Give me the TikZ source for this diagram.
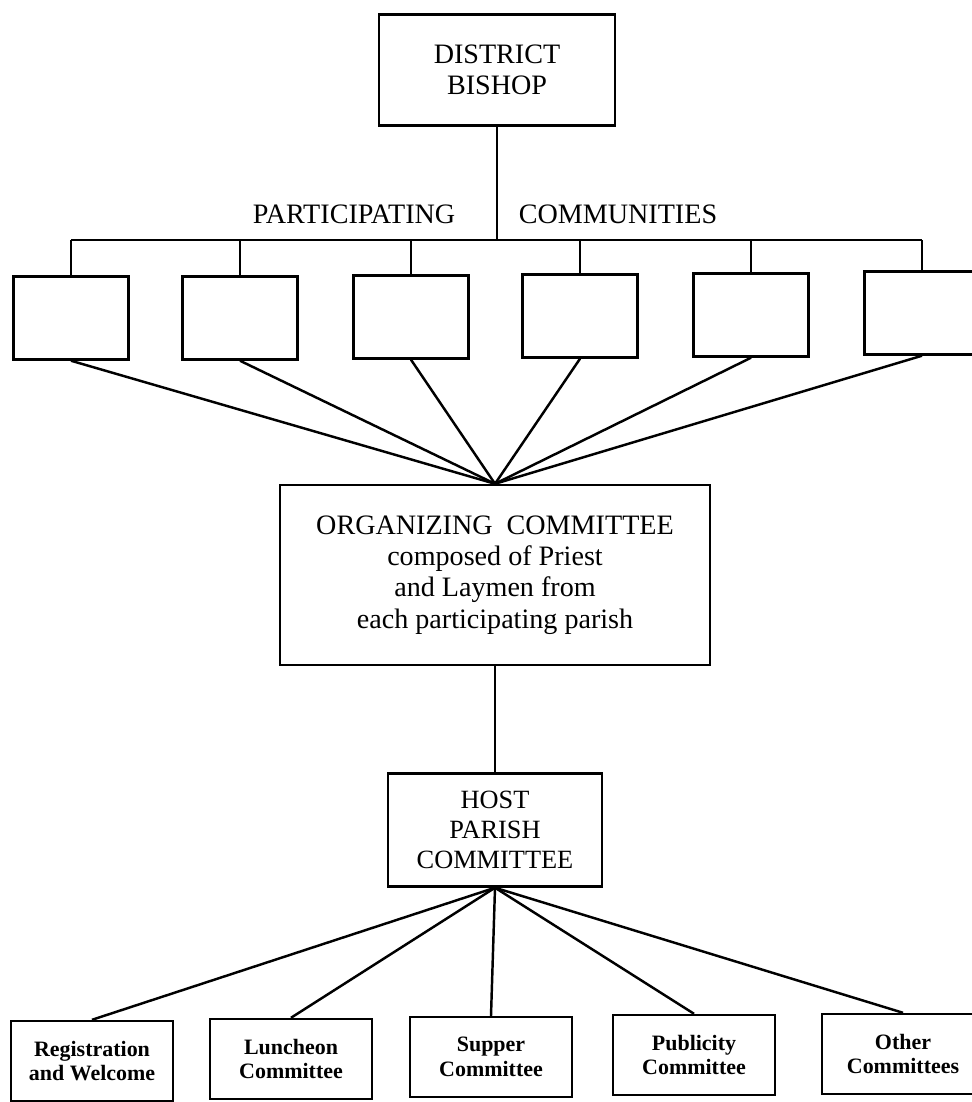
\documentclass[tikz,border=0pt]{standalone}
\usepackage{fontspec}
\setmainfont{Liberation Serif}
\usetikzlibrary{positioning}

\begin{document}
\begin{tikzpicture}[
    x=0.02cm, y=-0.02cm, line width=1.4pt,
    headbox/.style={rectangle, draw, inner sep=0pt,
                minimum width=4.72cm, minimum height=2.22cm,
                font=\fontsize{16}{17.5}\selectfont, align=center},
    commbox/.style={rectangle, draw, inner sep=0pt,
                minimum width=2.3cm, minimum height=1.66cm},
    orgbox/.style={rectangle, draw, inner sep=0pt,
                minimum width=8.6cm, minimum height=3.6cm,
                font=\fontsize{16}{17.8}\selectfont, align=center},
    hostbox/.style={rectangle, draw, inner sep=0pt,
                minimum width=4.28cm, minimum height=2.26cm,
                font=\fontsize{15}{17}\selectfont, align=center},
    subbox/.style={rectangle, draw, inner sep=0pt,
                minimum width=3.24cm, minimum height=1.6cm,
                font=\bfseries\fontsize{12.5}{14}\selectfont, align=center},
    lbl/.style={font=\fontsize{16}{18}\selectfont, inner sep=0pt},
]
\useasboundingbox (0,0) rectangle (971,1102);

\node[headbox] (bishop) at (497, 70) {DISTRICT\\BISHOP};

\node[lbl] (part) at (354, 214) {PARTICIPATING};
\node[lbl] (comm) at (618, 214) {COMMUNITIES};

\node[commbox] (c1) at (71, 318) {};
\node[commbox] (c2) at (240, 318) {};
\node[commbox] (c3) at (411, 317) {};
\node[commbox] (c4) at (580, 316) {};
\node[commbox] (c5) at (751, 315) {};
\node[commbox] (c6) at (922, 313) {};

\node[orgbox] (org) at (495, 575) {
    ORGANIZING\ \ COMMITTEE\\
    composed of Priest\\
    and Laymen from\\
    each participating parish
};

\node[hostbox] (host) at (495, 830) {HOST\\PARISH\\COMMITTEE};

\node[subbox] (s1) at (92, 1061) {Registration\\and Welcome};
\node[subbox] (s2) at (291, 1059) {Luncheon\\Committee};
\node[subbox] (s3) at (491, 1057) {Supper\\Committee};
\node[subbox] (s4) at (694, 1055) {Publicity\\Committee};
\node[subbox] (s5) at (903, 1054) {Other\\Committees};

% bar over the communities
\coordinate (bar) at (497, 240);
\draw (bishop.south) -- (bar);
\draw (c1.north |- bar) -- (c6.north |- bar);
\foreach \c in {c1,c2,c3,c4,c5,c6}
    \draw (\c.north |- bar) -- (\c.north);

% communities to the organizing committee
\foreach \c in {c1,c2,c3,c4,c5,c6}
    \draw (\c.south) -- (org.north);

\draw (org.south) -- (host.north);

% host parish to the working committees
\foreach \s in {s1,s2,s3,s4,s5}
    \draw (host.south) -- (\s.north);

\end{tikzpicture}
\end{document}
